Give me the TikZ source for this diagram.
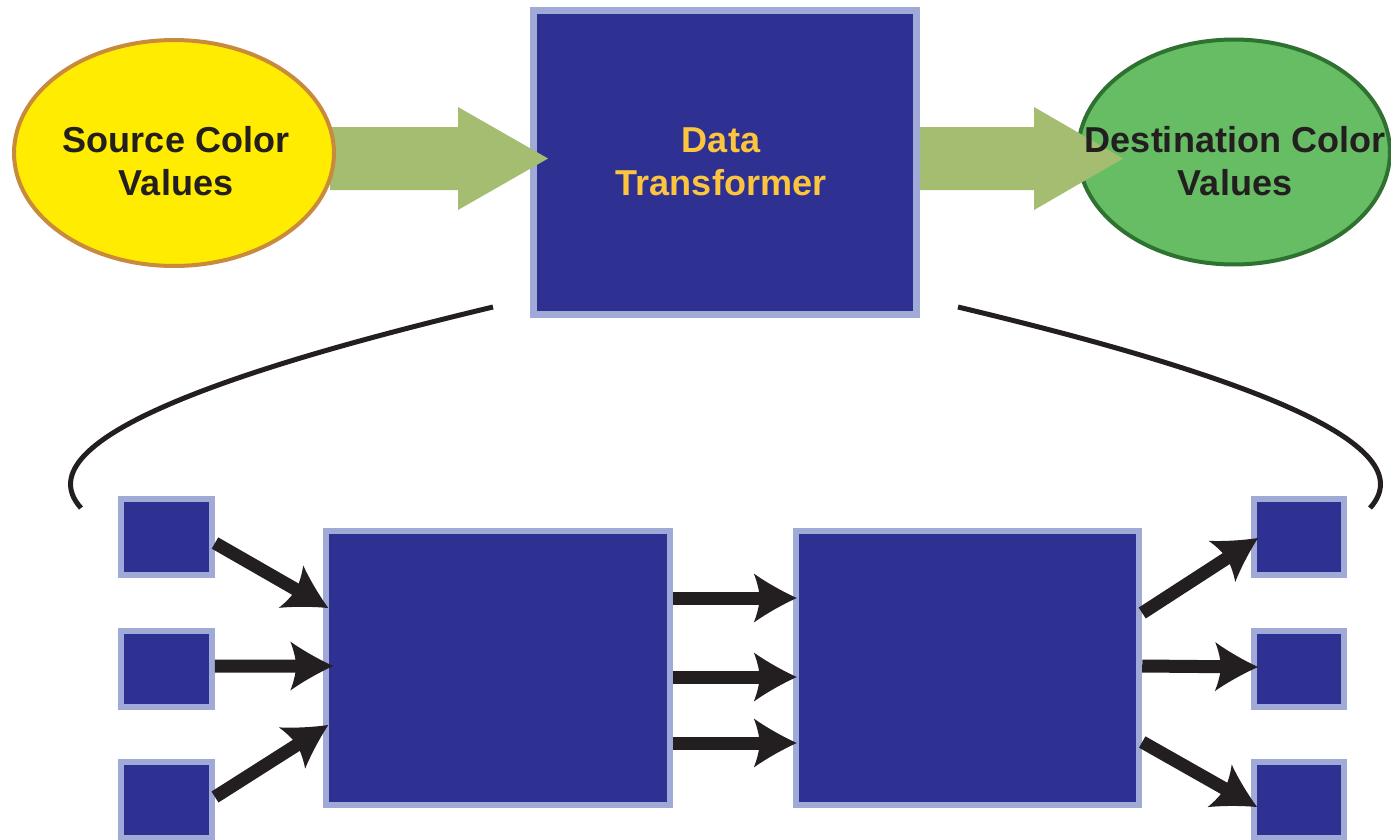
\documentclass[tikz,border=0pt]{standalone}
\usepackage{fontspec}
\setmainfont{Liberation Sans}
\usetikzlibrary{arrows.meta,shapes.geometric}
\definecolor{boxblue}{RGB}{46,49,146}
\definecolor{boxedge}{RGB}{160,170,215}
\definecolor{srcfill}{RGB}{255,236,0}
\definecolor{srcedge}{RGB}{200,138,60}
\definecolor{dstfill}{RGB}{102,189,99}
\definecolor{dstedge}{RGB}{46,114,49}
\definecolor{flowgreen}{RGB}{164,189,112}
\definecolor{labelorange}{RGB}{253,197,61}
\definecolor{inkblack}{RGB}{35,31,32}
\pgfdeclarearrow{
  name=Swept,
  parameters={\the\pgfarrowlength,\the\pgfarrowwidth},
  setup code={
    \pgfarrowssettipend{0pt}
    \pgfarrowssetbackend{-\pgfarrowlength}
    \pgfarrowssetlineend{-0.8\pgfarrowlength}
    \pgfarrowsupperhullpoint{0pt}{0pt}
    \pgfarrowsupperhullpoint{-\pgfarrowlength}{0.5\pgfarrowwidth}
    \pgfarrowssavethe\pgfarrowlength
    \pgfarrowssavethe\pgfarrowwidth
  },
  drawing code={
    \pgfpathmoveto{\pgfqpoint{0pt}{0pt}}
    \pgfpathcurveto{\pgfqpoint{-0.38\pgfarrowlength}{0.15\pgfarrowwidth}}%
      {\pgfqpoint{-0.78\pgfarrowlength}{0.36\pgfarrowwidth}}%
      {\pgfqpoint{-\pgfarrowlength}{0.5\pgfarrowwidth}}
    \pgfpathcurveto{\pgfqpoint{-0.93\pgfarrowlength}{0.35\pgfarrowwidth}}%
      {\pgfqpoint{-0.88\pgfarrowlength}{0.18\pgfarrowwidth}}%
      {\pgfqpoint{-0.86\pgfarrowlength}{0pt}}
    \pgfpathcurveto{\pgfqpoint{-0.88\pgfarrowlength}{-0.18\pgfarrowwidth}}%
      {\pgfqpoint{-0.93\pgfarrowlength}{-0.35\pgfarrowwidth}}%
      {\pgfqpoint{-\pgfarrowlength}{-0.5\pgfarrowwidth}}
    \pgfpathcurveto{\pgfqpoint{-0.78\pgfarrowlength}{-0.36\pgfarrowwidth}}%
      {\pgfqpoint{-0.38\pgfarrowlength}{-0.15\pgfarrowwidth}}%
      {\pgfqpoint{0pt}{0pt}}
    \pgfpathclose
    \pgfusepathqfill
  },
  defaults={length=0.86cm,width=0.96cm}
}
\begin{document}
\begin{tikzpicture}[x=0.02cm,y=-0.02cm,
  bluebox/.style={draw=boxedge,fill=boxblue,line width=0.12cm,inner sep=0pt},
  smallbox/.style={bluebox,minimum width=1.82cm,minimum height=1.52cm},
  bigbox/.style={bluebox,minimum width=6.87cm,minimum height=5.48cm},
  lbl/.style={font=\bfseries\fontsize{20.5}{24.5}\selectfont,align=center,text=inkblack,inner sep=0pt},
  flow/.style={draw=inkblack,line width=0.26cm,-{Swept[length=0.86cm,width=0.98cm]}},
  blockarrow/.style={fill=flowgreen},
  bracket/.style={draw=inkblack,line width=0.1cm}]
\useasboundingbox (0,0) rectangle (1391,839);

% top row
\node[bluebox,line width=0.14cm,minimum width=7.66cm,minimum height=6.08cm] (dt) at (725,162.5) {};
\node[ellipse,draw=dstedge,fill=dstfill,line width=0.08cm,inner sep=0pt,
      minimum width=6.24cm,minimum height=4.5cm] (dst) at (1234,152) {};

\coordinate (g1s) at (330,158.5);
\coordinate (g1t) at (548,158.5);
\coordinate (g2s) at (920,158.5);
\coordinate (g2t) at (1123,158.5);
\fill[blockarrow] (g1s) ++(0,-31.5) -- ++(128,0) -- ++(0,-20) -- (g1t)
  -- ++(-90,51.5) -- ++(0,-20) -- ++(-128,0) -- cycle;
\fill[blockarrow] (g2s) ++(0,-31.5) -- ++(114,0) -- ++(0,-20) -- (g2t)
  -- ++(-89,51.5) -- ++(0,-20) -- ++(-114,0) -- cycle;

\node[ellipse,draw=srcedge,fill=srcfill,line width=0.08cm,inner sep=0pt,
      minimum width=6.4cm,minimum height=4.52cm] (src) at (174,153) {};
\node[lbl] (srclbl) at (176,161) {Source Color\\Values};
\node[lbl,text=labelorange] (dtlbl) at (721,161.5) {Data\\Transformer};
\node[lbl] (dstlbl) at (1235,161) {Destination Color\\Values};

% bracket curves
\coordinate (cl1) at (493,307);
\coordinate (cl2) at (81,508);
\coordinate (cr1) at (958,307);
\coordinate (cr2) at (1370,508);
\draw[bracket] (cl1) .. controls (250,365) and (18,438) .. (cl2);
\draw[bracket] (cr1) .. controls (1201,365) and (1433,438) .. (cr2);

% bottom row
\node[smallbox] (s1) at (166.5,537) {};
\node[smallbox] (s2) at (166.5,669) {};
\node[smallbox] (s3) at (166.5,800) {};
\node[bigbox] (A) at (498,668) {};
\node[bigbox] (B) at (967.5,668) {};
\node[smallbox,minimum width=1.8cm] (t1) at (1299,537) {};
\node[smallbox,minimum width=1.8cm] (t2) at (1299,669) {};
\node[smallbox,minimum width=1.8cm] (t3) at (1299,800) {};

\draw[flow] ([yshift=-0.12cm]s1.east) -- ([shift={(0.1cm,1.2cm)}]A.west);
\draw[flow] ([yshift=0.06cm]s2.east) -- ([shift={(0.2cm,0.04cm)}]A.west);
\draw[flow] ([yshift=0.06cm]s3.east) -- ([shift={(0.1cm,-1.14cm)}]A.west);

\draw[flow] ([yshift=1.4cm]A.east) -- ([shift={(0.08cm,1.4cm)}]B.west);
\draw[flow] ([yshift=-0.18cm]A.east) -- ([shift={(0.08cm,-0.18cm)}]B.west);
\draw[flow] ([yshift=-1.5cm]A.east) -- ([shift={(0.08cm,-1.5cm)}]B.west);

\draw[flow] ([yshift=1.1cm]B.east) -- ([shift={(0.14cm,-0.02cm)}]t1.west);
\draw[flow] ([yshift=0.04cm]B.east) -- ([shift={(0.14cm,0.04cm)}]t2.west);
\draw[flow] ([yshift=-1.48cm]B.east) -- ([shift={(0.12cm,-0.14cm)}]t3.west);
\end{tikzpicture}
\end{document}
